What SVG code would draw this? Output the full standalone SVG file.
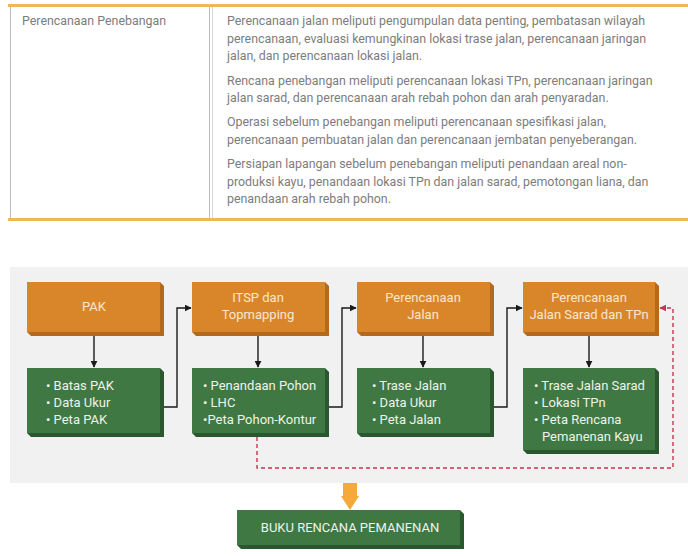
<svg xmlns="http://www.w3.org/2000/svg" width="688" height="556" viewBox="0 0 688 556">
<defs>
<style>
.tt{font-family:Roboto,"Liberation Sans",sans-serif;font-size:12.4px;fill:#7d7d7d}
.ot{font-family:Roboto,"Liberation Sans",sans-serif;font-size:13px;fill:#fbe7cc;text-anchor:middle}
.gt{font-family:Roboto,"Liberation Sans",sans-serif;font-size:13px;fill:#eef3ea}
.of{fill:#d9862b}.os{fill:#b36a1d}
.gf{fill:#3f7843}.gs{fill:#2a5730}
.conn{fill:none;stroke:#1a1a1a;stroke-width:1.4}
.dash{fill:none;stroke:#c8334f;stroke-width:1.4;stroke-dasharray:4 3}
</style>
<marker id="ah" viewBox="0 0 10 10" refX="9" refY="5" markerWidth="7" markerHeight="7" orient="auto" markerUnits="userSpaceOnUse"><path d="M0,0 L10,5 L0,10 z" fill="#1a1a1a"/></marker>
<marker id="ahr" viewBox="0 0 10 10" refX="9" refY="5" markerWidth="7" markerHeight="7" orient="auto" markerUnits="userSpaceOnUse"><path d="M0,0 L10,5 L0,10 z" fill="#c8334f"/></marker>
</defs>
<rect width="688" height="556" fill="#ffffff"/>
<g id="table">
<rect x="8" y="4" width="680" height="3" fill="#f0b75a"/>
<rect x="8" y="218" width="680" height="3" fill="#f0b75a"/>
<line x1="10.5" y1="7" x2="10.5" y2="218" stroke="#bdbdbd" stroke-width="1"/>
<line x1="209.5" y1="7" x2="209.5" y2="218" stroke="#bdbdbd" stroke-width="1"/>
<line x1="212.5" y1="7" x2="212.5" y2="218" stroke="#d6d6d6" stroke-width="1"/>
<text class="tt" x="22" y="25">Perencanaan Penebangan</text>
<text class="tt" x="227" y="25">Perencanaan jalan meliputi pengumpulan data penting, pembatasan wilayah</text>
<text class="tt" x="227" y="43">perencanaan, evaluasi kemungkinan lokasi trase jalan, perencanaan jaringan</text>
<text class="tt" x="227" y="60">jalan, dan perencanaan lokasi jalan.</text>
<text class="tt" x="227" y="85">Rencana penebangan meliputi perencanaan lokasi TPn, perencanaan jaringan</text>
<text class="tt" x="227" y="102">jalan sarad, dan perencanaan arah rebah pohon dan arah penyaradan.</text>
<text class="tt" x="227" y="126">Operasi sebelum penebangan meliputi perencanaan spesifikasi jalan,</text>
<text class="tt" x="227" y="144">perencanaan pembuatan jalan dan perencanaan jembatan penyeberangan.</text>
<text class="tt" x="227" y="168">Persiapan lapangan sebelum penebangan meliputi penandaan areal non-</text>
<text class="tt" x="227" y="186">produksi kayu, penandaan lokasi TPn dan jalan sarad, pemotongan liana, dan</text>
<text class="tt" x="227" y="203">penandaan arah rebah pohon.</text>
</g>
<rect x="10" y="267" width="678" height="216" fill="#f1f1f1"/>
<g id="connectors">
<line class="conn" x1="94" y1="335" x2="94" y2="367" marker-end="url(#ah)"/>
<line class="conn" x1="258" y1="335" x2="258" y2="367" marker-end="url(#ah)"/>
<line class="conn" x1="423" y1="335" x2="423" y2="367" marker-end="url(#ah)"/>
<line class="conn" x1="589" y1="335" x2="589" y2="367" marker-end="url(#ah)"/>
<polyline class="conn" points="163,407 177,407 177,308 191,308" marker-end="url(#ah)"/>
<polyline class="conn" points="328,407 342,407 342,308 356,308" marker-end="url(#ah)"/>
<polyline class="conn" points="493,407 507,407 507,308 522,308" marker-end="url(#ah)"/>
<polyline class="dash" points="257,437 257,468 673,468 673,308 660,308" marker-end="url(#ahr)"/>
<path d="M343,483 H357 V496 H359 L350,510 L341,496 H343 Z" fill="#f5a93b"/>
</g>
<g id="pak">
<polygon class="os" points="160,282 164,286 164,336 31,336 27,332"/>
<rect class="of" x="27" y="282" width="133" height="50"/>
<text class="ot" x="94" y="311">PAK</text>
</g>
<g id="itsp">
<polygon class="os" points="325,282 329,286 329,336 196,336 192,332"/>
<rect class="of" x="192" y="282" width="133" height="50"/>
<text class="ot" x="258" y="302">ITSP dan</text>
<text class="ot" x="258" y="319">Topmapping</text>
</g>
<g id="jalan">
<polygon class="os" points="490,282 494,286 494,336 361,336 357,332"/>
<rect class="of" x="357" y="282" width="133" height="50"/>
<text class="ot" x="423" y="302">Perencanaan</text>
<text class="ot" x="423" y="319">Jalan</text>
</g>
<g id="sarad">
<polygon class="os" points="655,282 659,286 659,336 527,336 523,332"/>
<rect class="of" x="523" y="282" width="132" height="50"/>
<text class="ot" x="589" y="302">Perencanaan</text>
<text class="ot" x="589" y="319">Jalan Sarad dan TPn</text>
</g>
<g id="pak-out">
<polygon class="gs" points="160,368 164,372 164,437 31,437 27,433"/>
<rect class="gf" x="27" y="368" width="133" height="65"/>
<text class="gt" x="46" y="390">• Batas PAK</text>
<text class="gt" x="46" y="407">• Data Ukur</text>
<text class="gt" x="46" y="424">• Peta PAK</text>
</g>
<g id="itsp-out">
<polygon class="gs" points="325,368 329,372 329,437 196,437 192,433"/>
<rect class="gf" x="192" y="368" width="133" height="65"/>
<text class="gt" x="203" y="390">• Penandaan Pohon</text>
<text class="gt" x="203" y="407">• LHC</text>
<text class="gt" x="203" y="424">•Peta Pohon-Kontur</text>
</g>
<g id="jalan-out">
<polygon class="gs" points="490,368 494,372 494,437 361,437 357,433"/>
<rect class="gf" x="357" y="368" width="133" height="65"/>
<text class="gt" x="372" y="390">• Trase Jalan</text>
<text class="gt" x="372" y="407">• Data Ukur</text>
<text class="gt" x="372" y="424">• Peta Jalan</text>
</g>
<g id="sarad-out">
<polygon class="gs" points="655,368 659,372 659,454 527,454 523,450"/>
<rect class="gf" x="523" y="368" width="132" height="82"/>
<text class="gt" x="534" y="390">• Trase Jalan Sarad</text>
<text class="gt" x="534" y="407">• Lokasi TPn</text>
<text class="gt" x="534" y="424">• Peta Rencana</text>
<text class="gt" x="542" y="441">Pemanenan Kayu</text>
</g>
<g id="buku">
<polygon class="gs" points="460,510 464,514 464,549 241,549 237,545"/>
<rect class="gf" x="237" y="510" width="223" height="35"/>
<text class="ot" x="350" y="532" style="fill:#eef3ea">BUKU RENCANA PEMANENAN</text>
</g>
</svg>
